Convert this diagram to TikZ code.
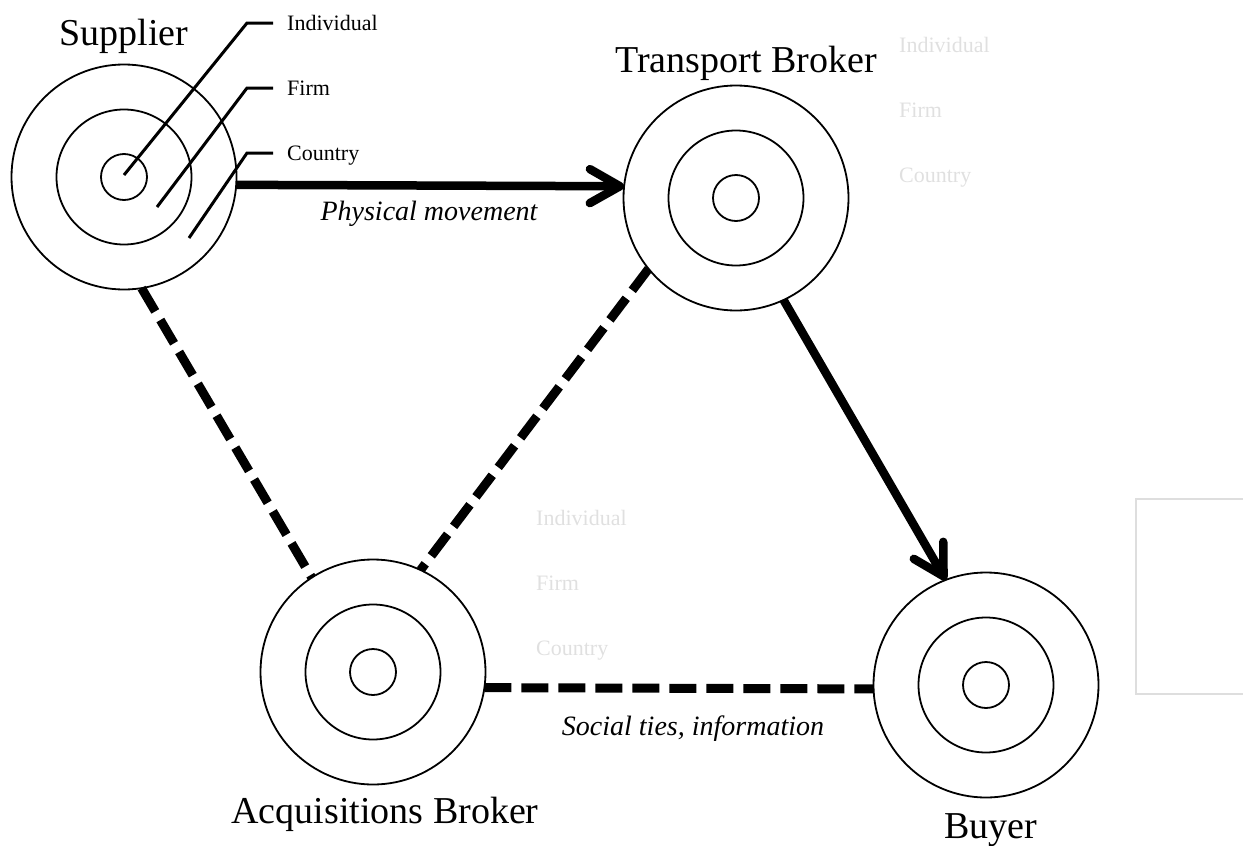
\documentclass[tikz,border=0pt]{standalone}
\usepackage{fontspec}
\setmainfont{Liberation Serif}
\usetikzlibrary{arrows.meta}
\begin{document}
\begin{tikzpicture}[x=1pt,y=-1pt,
  ring/.style={draw,circle,line width=1.8pt,inner sep=0pt,outer sep=0pt},
  outerring/.style={ring,minimum size=225pt},
  midring/.style={ring,minimum size=135pt},
  innerring/.style={ring,minimum size=46pt},
  title/.style={font=\fontsize{38}{40}\selectfont,anchor=base},
  lvl/.style={font=\fontsize{22}{24}\selectfont,anchor=base west,inner sep=0pt},
  ghost/.style={lvl,text=black!12},
  edgelabel/.style={font=\fontsize{28}{30}\selectfont\itshape,anchor=base},
  flow/.style={line width=8.5pt,-{Straight Barb[length=30pt,width=34pt,round]}},
  tie/.style={line width=9pt,dash pattern=on 27pt off 10pt},
  leader/.style={line width=3pt}]
\useasboundingbox (0,0) rectangle (1243,846);

% Supplier
\node[outerring] (sup) at (124,177) {};
\node[midring] (supm) at (124,177) {};
\node[innerring] (supi) at (124,177) {};
\node[title] (supt) at (124,45) {Supplier};

% Transport Broker
\node[outerring] (tra) at (736,198) {};
\node[midring] (tram) at (736,198) {};
\node[innerring] (trai) at (736,198) {};
\node[title] (trat) at (746,72) {Transport Broker};

% Acquisitions Broker
\node[outerring] (acq) at (373,672) {};
\node[midring] (acqm) at (373,672) {};
\node[innerring] (acqi) at (373,672) {};
\node[title] (acqt) at (385,823) {Acquisitions Broker};

% Buyer
\node[outerring] (buy) at (986,685) {};
\node[midring] (buym) at (986,685) {};
\node[innerring] (buyi) at (986,685) {};
\node[title] (buyt) at (991,838) {Buyer};

% level labels with leaders
\node[lvl] (lind) at (287,30) {Individual};
\node[lvl] (lfirm) at (287,95) {Firm};
\node[lvl] (lcty) at (287,160) {Country};
\coordinate (pind) at (124,175);
\coordinate (pfirm) at (157,207);
\coordinate (pcty) at (189,238);
\coordinate (kind) at (247,23);
\coordinate (kfirm) at (247,88);
\coordinate (kcty) at (247,153);
\draw[leader] (pind) -- (kind) -- (273,23);
\draw[leader] (pfirm) -- (kfirm) -- (273,88);
\draw[leader] (pcty) -- (kcty) -- (273,153);

% ghost labels
\node[ghost] (gti) at (899,52) {Individual};
\node[ghost] (gtf) at (899,117) {Firm};
\node[ghost] (gtc) at (899,182) {Country};
\node[ghost] (gai) at (536,525) {Individual};
\node[ghost] (gaf) at (536,590) {Firm};
\node[ghost] (gac) at (536,655) {Country};
\draw[black!13,line width=1.2pt] (1243,499) -- (1136,499) -- (1136,694) -- (1243,694);

% connectors
\draw[flow] (sup.-4.5) -- (tra.174);
\draw[flow] (tra.-65) -- (buy.111.6);
\draw[tie] (sup.-81) -- (acq.123);
\draw[tie] (tra.219) -- (acq.65);
\draw[tie] (acq.-8.8) -- (buy.182.5);

\node[edgelabel] (pm) at (429,220) {Physical movement};
\node[edgelabel] (st) at (693,735) {Social ties, information};
\end{tikzpicture}
\end{document}
